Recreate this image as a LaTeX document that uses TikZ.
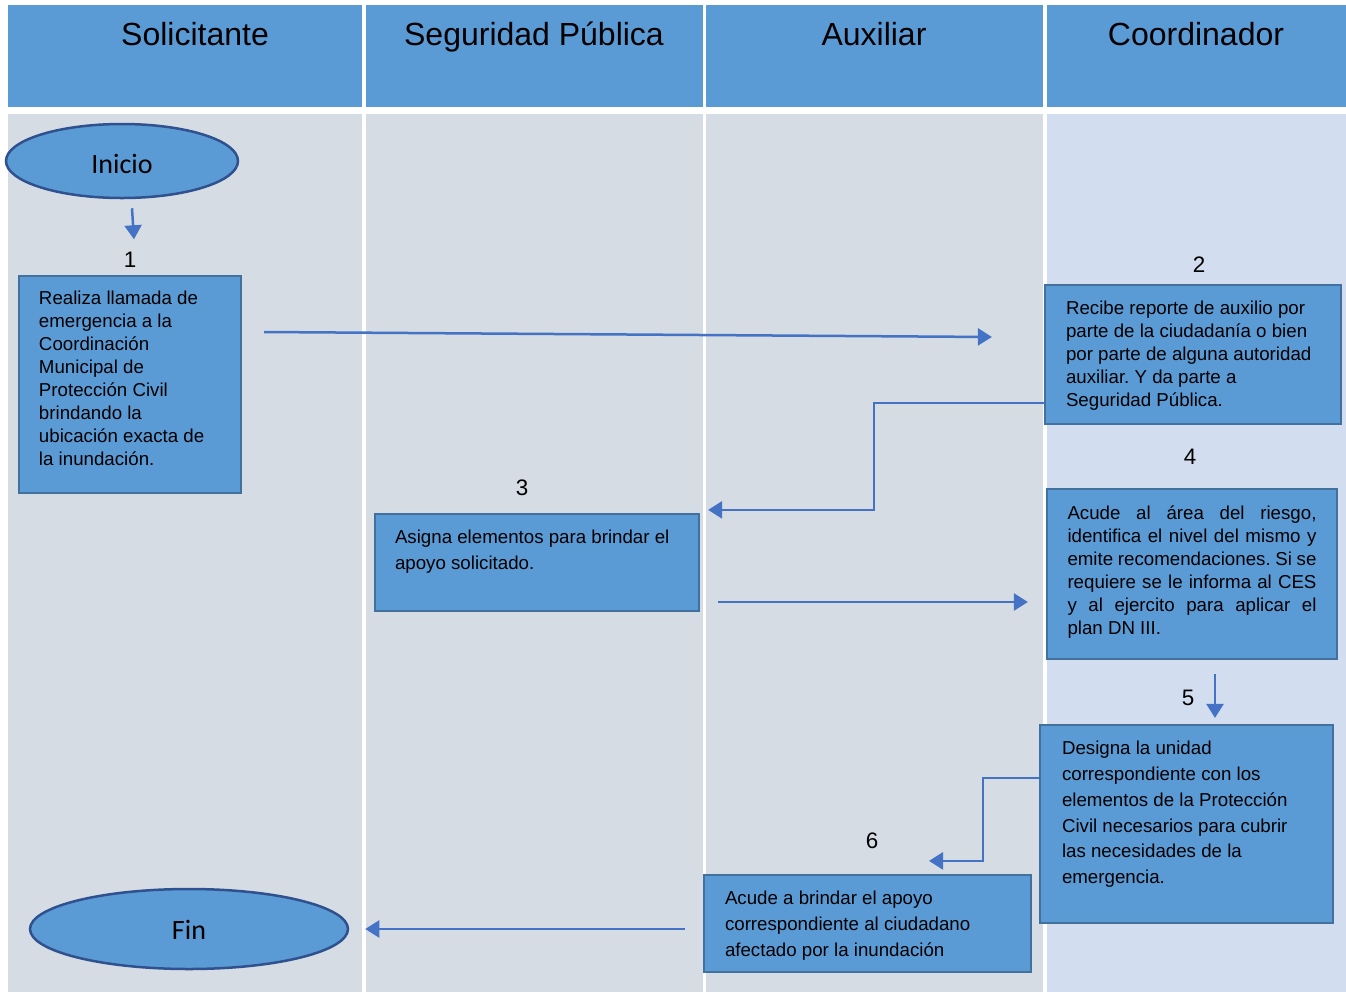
\documentclass[tikz,border=0pt]{standalone}
\usepackage{fontspec}
\setmainfont{Liberation Sans}
\newfontfamily\calfont{Carlito}
\usetikzlibrary{shapes.geometric,arrows.meta}
\definecolor{hdr}{HTML}{5B9BD5}
\definecolor{lane}{HTML}{D6DCE4}
\definecolor{lanefour}{HTML}{D2DDEF}
\definecolor{boxline}{HTML}{41719C}
\definecolor{ellline}{HTML}{2F528F}
\definecolor{arrc}{HTML}{4472C4}
\frenchspacing
\newcommand\boxtxt[3]{\parbox[c][#2][t]{#1}{\raggedright\strut #3}}
\newcommand\boxjust[3]{\parbox[c][#2][t]{#1}{\tolerance=10000\hyphenpenalty=10000\strut #3}}
\begin{document}
\begin{tikzpicture}[x=0.5pt,y=-0.5pt,
  box/.style={rectangle, draw=boxline, line width=1.1pt, fill=hdr, inner sep=0pt, font=\fontsize{9.35}{11.5}\selectfont},
  boxwide/.style={box, font=\fontsize{9.35}{13}\selectfont},
  term/.style={ellipse, draw=ellline, line width=1.25pt, fill=hdr, inner sep=0pt, font=\calfont\fontsize{14}{16}\selectfont},
  num/.style={inner sep=0pt, font=\fontsize{11.2}{13}\selectfont},
  ttl/.style={anchor=base, inner sep=0pt, font=\fontsize{16}{19}\selectfont},
  arr/.style={draw=arrc, line width=1.25pt, -{Triangle[length=7pt,width=8.5pt]}}
]
\useasboundingbox (0,0) rectangle (1346,992);
\fill[white] (0,0) rectangle (1346,992);
% lanes
\fill[hdr] (8,5) rectangle (362,107);
\fill[hdr] (366,5) rectangle (703,107);
\fill[hdr] (706,5) rectangle (1043,107);
\fill[hdr] (1047,5) rectangle (1346,107);
\fill[lane] (8,114) rectangle (362,992);
\fill[lane] (366,114) rectangle (703,992);
\fill[lane] (706,114) rectangle (1043,992);
\fill[lanefour] (1047,114) rectangle (1346,992);
\node[ttl] (t1) at (195,45) {Solicitante};
\node[ttl] (t2) at (534,45) {Seguridad Pública};
\node[ttl] (t3) at (874,45) {Auxiliar};
\node[ttl] (t4) at (1196,45) {Coordinador};
% terminals
\node[term, minimum width=116pt, minimum height=37pt, text depth=0pt, text height=12pt] (ini) at (122,161) {Inicio};
\node[term, minimum width=159pt, minimum height=40pt, text depth=0pt, text height=10pt] (fin) at (189,929) {Fin};
% numbers
\node[num] (n1) at (130,260) {1};
\node[num] (n2) at (1199,265) {2};
\node[num] (n3) at (522,488) {3};
\node[num] (n4) at (1190,457) {4};
\node[num] (n5) at (1188,698) {5};
\node[num] (n6) at (872,841) {6};
% boxes
\node[box, minimum width=111pt, minimum height=108.5pt] (b1) at (130,384.5)
  {\boxtxt{91pt}{95.9pt}{Realiza llamada de\\emergencia a la\\Coordinación\\Municipal de\\Protección Civil\\brindando la\\ubicación exacta de\\la inundación.}};
\node[box, minimum width=148pt, minimum height=69.5pt] (b2) at (1193,354.5)
  {\boxtxt{127pt}{55.8pt}{Recibe reporte de auxilio por\\parte de la ciudadanía o bien\\por parte de alguna autoridad\\auxiliar. Y da parte a\\Seguridad Pública.}};
\node[boxwide, minimum width=162pt, minimum height=48.5pt] (b3) at (537,562.5)
  {\boxtxt{142pt}{37.7pt}{Asigna elementos para brindar el\\apoyo solicitado.}};
\node[box, minimum width=145pt, minimum height=85pt] (b4) at (1192,574)
  {\boxjust{124.5pt}{71pt}{Acude al área del riesgo,\linebreak identifica el nivel del mismo y\linebreak emite recomendaciones. Si se\linebreak requiere se le informa al CES\linebreak y al ejercito para aplicar el\linebreak plan DN III.}};
\node[box, font=\fontsize{9.35}{12.9}\selectfont, minimum width=146.5pt, minimum height=99pt] (b5) at (1186.5,824)
  {\boxtxt{124.5pt}{87.4pt}{Designa la unidad\\correspondiente con los\\elementos de la Protección\\Civil necesarios para cubrir\\las necesidades de la\\emergencia.}};
\node[boxwide, minimum width=163.5pt, minimum height=48.5pt] (b6) at (867.5,923.5)
  {\boxtxt{142.5pt}{37.7pt}{Acude a brindar el apoyo\\correspondiente al ciudadano\\afectado por la inundación}};
% connector end points
\coordinate (a0s) at ([shift={(10,9)}]ini.south);
\coordinate (a0e) at ([shift={(12,40)}]ini.south);
\coordinate (a1s) at ([shift={(22,-52.5)}]b1.east);
\coordinate (a1e) at ([shift={(-52,-17.5)}]b2.west);
\coordinate (a2s) at ([shift={(0,48.5)}]b2.west);
\coordinate (a2e) at ([shift={(8,-3)}]b3.north east);
\coordinate (a3s) at ([shift={(18,39.5)}]b3.east);
\coordinate (a3e) at ([shift={(-18,28)}]b4.west);
\coordinate (a4s) at ([shift={(23,14)}]b4.south);
\coordinate (a4e) at ([shift={(28.5,-6)}]b5.north);
\coordinate (a5s) at ([shift={(0,-46)}]b5.west);
\coordinate (a5e) at ([shift={(61.5,-13)}]b6.north);
\coordinate (a6s) at ([shift={(-18,5.5)}]b6.west);
\coordinate (a6e) at ([shift={(16,0)}]fin.east);
% connectors
\draw[arr] (a0s) -- (a0e);
\draw[arr] (a1s) -- (a1e);
\draw[arr] (a2s) -- ++(-170,0) |- (a2e);
\draw[arr] (a3s) -- (a3e);
\draw[arr] (a4s) -- (a4e);
\draw[arr] (a5s) -- ++(-56,0) |- (a5e);
\draw[arr] (a6s) -- (a6e);
\end{tikzpicture}
\end{document}
